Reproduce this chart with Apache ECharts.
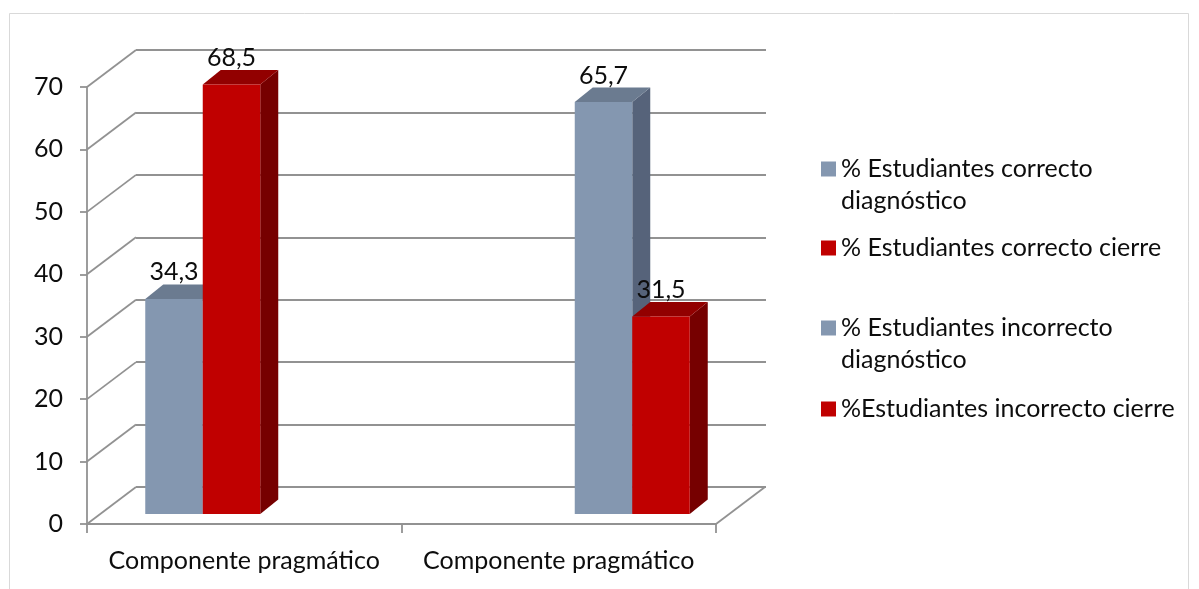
<!DOCTYPE html>
<html><head><meta charset="utf-8">
<script src="https://cdn.jsdelivr.net/npm/echarts@6/dist/echarts.min.js"></script>
<style>html,body{margin:0;padding:0;background:#fff}#c{width:1199px;height:589px}</style>
</head><body><div id="c"></div>
<script>
// ---- data ----
const categories = ['Componente pragmático', 'Componente pragmático'];
const seriesNames = ['% Estudiantes correcto diagnóstico', '% Estudiantes correcto cierre', '% Estudiantes incorrecto diagnóstico', '%Estudiantes incorrecto cierre'];
const correctoDiagnostico = [34.3, null];
const correctoCierre = [68.5, null];
const incorrectoDiagnostico = [null, 65.7];
const incorrectoCierre = [null, 31.5];
const yTicks = [0, 10, 20, 30, 40, 50, 60, 70];
const yMin = 0, yMax = 70, yInterval = 10;

// ---- style ----
const FONT = 'Lato';
const FS = 25;
const TXT = '#0d0d0d';
const GRID_C = '#929292';
const GRID_W = 1.8;
const WALL_DEPTH = [49, -37];
const BAR_DEPTH = [18, -14.5];
const BAR_W = 57.5;
const palette = [
  { front: '#8497B0', top: '#6B7B90', side: '#56637A' },
  { front: '#C00000', top: '#920000', side: '#760000' },
  { front: '#8497B0', top: '#6B7B90', side: '#56637A' },
  { front: '#C00000', top: '#920000', side: '#760000' }
];
const seriesValues = [correctoDiagnostico, correctoCierre, incorrectoDiagnostico, incorrectoCierre];

function fmt(v) { return String(v).replace('.', ','); }

function barRenderer(slot) {
  const col = palette[slot];
  return function (params, api) {
    const cat = api.value(0), val = api.value(1);
    const base = api.coord([cat, 0]);
    const top = api.coord([cat, val]);
    const xl = base[0] + (slot - 2) * BAR_W;
    const xr = xl + BAR_W;
    const yt = top[1], yb = base[1];
    const dx = BAR_DEPTH[0], dy = BAR_DEPTH[1];
    return {
      type: 'group',
      children: [
        { type: 'polygon', shape: { points: [[xr, yt], [xr + dx, yt + dy], [xr + dx, yb + dy], [xr, yb]] }, style: { fill: col.side } },
        { type: 'polygon', shape: { points: [[xl, yt], [xl + dx, yt + dy], [xr + dx, yt + dy], [xr, yt]] }, style: { fill: col.top } },
        { type: 'rect', shape: { x: xl, y: yt, width: BAR_W, height: yb - yt }, style: { fill: col.front } },
        { type: 'text', style: { text: fmt(val), x: xl + BAR_W / 2, y: yt - 26.5, align: 'center', verticalAlign: 'middle', fill: TXT, font: FS + 'px ' + FONT } }
      ]
    };
  };
}

const barSeries = seriesValues.map((vals, k) => ({
  name: seriesNames[k],
  type: 'custom',
  xAxisIndex: 2, yAxisIndex: 2,
  itemStyle: { color: palette[k].front },
  renderItem: barRenderer(k),
  data: vals.map((v, i) => v == null ? null : [i, v]).filter(d => d),
  z: 5 + k
}));

const sideWall = {
  type: 'custom', xAxisIndex: 0, yAxisIndex: 0, silent: true, z: 1,
  data: yTicks.map(v => [0, v]),
  renderItem: function (params, api) {
    const y = api.coord([0, api.value(1)])[1];
    const x = params.coordSys.x;
    return { type: 'line', shape: { x1: x, y1: y, x2: x + WALL_DEPTH[0], y2: y + WALL_DEPTH[1] }, style: { stroke: GRID_C, lineWidth: GRID_W } };
  }
};
const floorEdge = {
  type: 'custom', xAxisIndex: 0, yAxisIndex: 0, silent: true, z: 1,
  data: [[0, yMin]],
  renderItem: function (params, api) {
    const y = api.coord([0, api.value(1)])[1];
    const x = params.coordSys.x + params.coordSys.width;
    return { type: 'line', shape: { x1: x, y1: y, x2: x + WALL_DEPTH[0], y2: y + WALL_DEPTH[1] }, style: { stroke: GRID_C, lineWidth: GRID_W } };
  }
};

function legendFor(k, top, twoLine) {
  const lh = 32;
  return {
    data: [seriesNames[k]], left: 821, top: top, orient: 'vertical', padding: 0,
    itemWidth: 15, itemHeight: 15, icon: 'rect', selectedMode: false,
    formatter: n => twoLine ? '\n' + n.replace(' diagnóstico', '\ndiagnóstico') : n,
    textStyle: { fontFamily: FONT, fontSize: FS, color: TXT, lineHeight: lh }
  };
}

const chart = echarts.init(document.getElementById('c'), null, { renderer: 'canvas' });
chart.setOption({
  backgroundColor: '#fff',
  animation: false,
  graphic: [{ type: 'rect', silent: true, z: -10, shape: { x: 9.5, y: 13.5, width: 1179, height: 640 }, style: { fill: null, stroke: '#d9d9d9', lineWidth: 1 } }],
  grid: [
    { left: 87, right: 483, top: 87, bottom: 65, outerBoundsMode: 'none', containLabel: false },
    { left: 136, right: 433, top: 50, bottom: 102, outerBoundsMode: 'none', containLabel: false },
    { left: 103, right: 467, top: 75, bottom: 75, outerBoundsMode: 'none', containLabel: false }
  ],
  xAxis: [
    { gridIndex: 0, type: 'category', data: categories, boundaryGap: true,
      axisLine: { show: true, lineStyle: { color: GRID_C, width: GRID_W } },
      axisTick: { show: true, length: 9, lineStyle: { color: GRID_C, width: GRID_W } },
      axisLabel: { margin: 24, fontFamily: FONT, fontSize: FS, color: TXT, interval: 0 },
      splitLine: { show: false } },
    { gridIndex: 1, type: 'category', data: categories, show: false },
    { gridIndex: 2, type: 'category', data: categories, show: false, boundaryGap: true }
  ],
  yAxis: [
    { gridIndex: 0, type: 'value', min: yMin, max: yMax, interval: yInterval,
      axisLine: { show: true, lineStyle: { color: GRID_C, width: GRID_W } },
      axisTick: { show: true, length: 7, lineStyle: { color: GRID_C, width: GRID_W } },
      axisLabel: { margin: 24, fontFamily: FONT, fontSize: FS, color: TXT },
      splitLine: { show: false } },
    { gridIndex: 1, type: 'value', min: yMin, max: yMax, interval: yInterval,
      axisLine: { show: false }, axisTick: { show: false }, axisLabel: { show: false },
      splitLine: { show: true, lineStyle: { color: GRID_C, width: GRID_W } } },
    { gridIndex: 2, type: 'value', min: yMin, max: yMax, interval: yInterval, show: false, splitLine: { show: false } }
  ],
  legend: [
    legendFor(0, 121, true),
    legendFor(1, 232, false),
    legendFor(2, 280, true),
    legendFor(3, 393, false)
  ],
  series: [sideWall, floorEdge].concat(barSeries)
});
</script>
</body></html>
